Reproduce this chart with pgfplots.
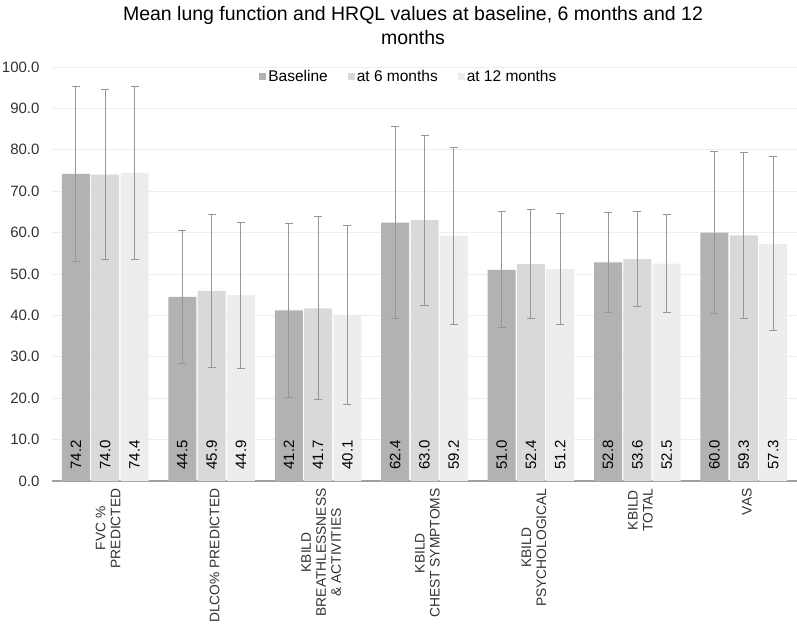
\documentclass[border=0pt]{standalone}
\usepackage{fontspec}
\setmainfont{Liberation Sans}
\usepackage{pgfplots}
\pgfplotsset{compat=1.18}
\usepackage{pgfplotstable}
\definecolor{cb}{RGB}{178,178,178}
\definecolor{c6}{RGB}{217,217,217}
\definecolor{c12}{RGB}{237,237,237}
\definecolor{txt}{RGB}{50,50,50}
\definecolor{axc}{RGB}{160,160,160}
\definecolor{gridc}{RGB}{238,238,238}
\definecolor{errc}{RGB}{150,150,150}

\pgfplotstableread{
x b be m6 m6e m12 m12e bl ml tl
0 74.2 21.1 74.0 20.6 74.4 21.0 74.2 74.0 74.4
1 44.5 16.0 45.9 18.4 44.9 17.6 44.5 45.9 44.9
2 41.2 20.9 41.7 22.1 40.1 21.7 41.2 41.7 40.1
3 62.4 23.2 63.0 20.5 59.2 21.3 62.4 63.0 59.2
4 51.0 14.0 52.4 13.2 51.2 13.4 51.0 52.4 51.2
5 52.8 12.1 53.6 11.5 52.5 11.9 52.8 53.6 52.5
6 60.0 19.5 59.3 20.0 57.3 21.0 60.0 59.3 57.3
}\data

\begin{document}
\begin{tikzpicture}
\begin{axis}[
  at={(0,0)}, anchor=south west,
  scale only axis, width=745bp, height=414bp,
  xmin=-0.5, xmax=6.5, ymin=0, ymax=100,
  ybar, bar width=28bp,
  /pgf/number format/assume math mode=true,
  font=\fontsize{15bp}{17bp}\selectfont,
  xtick={0,...,6},
  xticklabels={FVC \%\\PREDICTED, DLCO\% PREDICTED, KBILD\\BREATHLESSNESS\\\& ACTIVITIES, KBILD\\CHEST SYMPTOMS, KBILD\\PSYCHOLOGICAL, KBILD\\TOTAL, VAS},
  xticklabel style={text=txt, align=center, yshift=-4bp, xshift=3bp, rotate=90, anchor=east, font=\fontsize{13.8bp}{15bp}\selectfont},
  ytick={0,10,...,100},
  yticklabel style={text=txt, xshift=-9bp, /pgf/number format/fixed, /pgf/number format/precision=1, /pgf/number format/fixed zerofill},
  major tick length=0pt,
  axis lines*=left,
  x axis line style={draw=axc, line width=1.6bp, -},
  y axis line style={draw=none},
  ymajorgrids, grid style={draw=gridc, line width=0.7bp},
  legend columns=3,
  legend style={draw=none, fill=none, at={(0.479,0.976)}, anchor=center, text=black,
    /tikz/every even column/.append style={column sep=18bp}, font=\fontsize{15.5bp}{17bp}\selectfont},
  legend image code/.code={\fill[#1] (0bp,-3.5bp) rectangle (7bp,3.5bp);},
  error bars/error bar style={draw=errc, line width=0.9bp},
  error bars/error mark options={draw=errc, rotate=90, mark size=4bp, line width=0.9bp},
  clip=false,
]
\addplot[fill=cb, draw=none, bar shift=-29.3bp, error bars/.cd, y dir=both, y explicit] table[x=x, y=b, y error=be] {\data};
\addlegendentry{Baseline}
\addplot[fill=c6, draw=none, bar shift=0bp, error bars/.cd, y dir=both, y explicit] table[x=x, y=m6, y error=m6e] {\data};
\addlegendentry{at 6 months}
\addplot[fill=c12, draw=none, bar shift=29.3bp, error bars/.cd, y dir=both, y explicit] table[x=x, y=m12, y error=m12e] {\data};
\addlegendentry{at 12 months}
\pgfplotsset{every node near coord/.style={text=black, yshift=8bp, rotate=90, anchor=west, font=\fontsize{15bp}{17bp}\selectfont}}
\addplot[forget plot, only marks, mark=none, nodes near coords, point meta=explicit symbolic] table[x expr=\thisrow{x}-0.2753, y expr=0, meta=bl] {\data};
\addplot[forget plot, only marks, mark=none, nodes near coords, point meta=explicit symbolic] table[x=x, y expr=0, meta=ml] {\data};
\addplot[forget plot, only marks, mark=none, nodes near coords, point meta=explicit symbolic] table[x expr=\thisrow{x}+0.2753, y expr=0, meta=tl] {\data};
\end{axis}
\node[font=\fontsize{19.5bp}{24bp}\selectfont, align=center, text=black] at (361bp,455bp) {Mean lung function and HRQL values at baseline, 6 months and 12\\months};
\pgfresetboundingbox
\path[use as bounding box] (-52bp,-146bp) rectangle (745bp,481bp);
\end{tikzpicture}
\end{document}
